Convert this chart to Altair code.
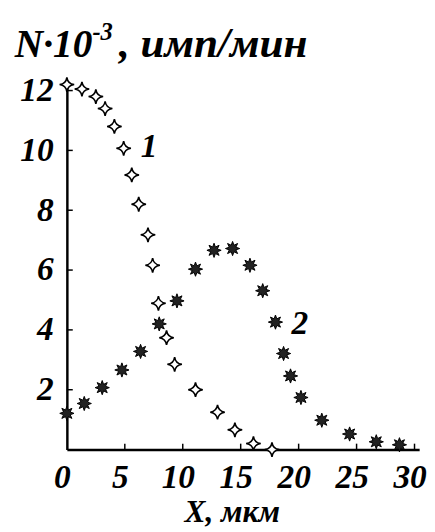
import altair as alt
import pandas as pd

# Series 1 (open 4-point stars)
x1 = [0.0, 1.3, 2.5, 3.3, 4.1, 4.9, 5.6, 6.2, 7.0, 7.4, 7.9, 8.6, 9.3, 11.1, 13.0, 14.5, 16.1, 17.7]
y1 = [12.2, 12.05, 11.8, 11.4, 10.8, 10.07, 9.18, 8.2, 7.18, 6.16, 4.89, 3.74, 2.85, 2.0, 1.25, 0.66, 0.2, 0.0]
# Series 2 (filled 8-point stars)
x2 = [0.0, 1.5, 3.05, 4.75, 6.36, 7.97, 9.5, 11.1, 12.7, 14.3, 15.8, 16.9, 18.0, 18.7, 19.3, 20.2, 22.0, 24.4, 26.7, 28.7]
y2 = [1.21, 1.54, 2.07, 2.66, 3.28, 4.2, 4.97, 6.03, 6.66, 6.72, 6.16, 5.31, 4.26, 3.21, 2.46, 1.74, 0.98, 0.52, 0.26, 0.16]

curve_labels = ["1", "2"]
label_x = [7.1, 20.1]
label_y = [10.1, 4.2]

x_ticks = [0, 5, 10, 15, 20, 25, 30]
y_ticks = [2, 4, 6, 8, 10, 12]

title_main = "N·10"
title_sup = "-3"
title_rest = ", имп/мин"
x_title = "X,  мкм"

FONT = "Liberation Serif"
W, H = 359, 375

df1 = pd.DataFrame({"x": x1, "y": y1})
df2 = pd.DataFrame({"x": x2, "y": y2})
dfl = pd.DataFrame({"x": label_x, "y": label_y, "t": curve_labels})
dfyt = pd.DataFrame({"y": y_ticks})
dfxt = pd.DataFrame({"x": x_ticks[1:]})

xs = alt.Scale(domain=[0, 30.4], nice=False, zero=False)
ys = alt.Scale(domain=[0, 12.3], nice=False, zero=False)

xaxis = alt.Axis(values=x_ticks, title=x_title, tickSize=0, labelPadding=12,
                 labelFontSize=34, titleFontSize=32, labelFont=FONT, titleFont=FONT,
                 labelFontStyle="italic", titleFontStyle="italic",
                 labelFontWeight="bold", titleFontWeight="bold",
                 labelColor="black", titleColor="black", domainColor="black",
                 domainWidth=2.5, grid=False, titlePadding=2, labelOffset=-5,
                 labelFlush=False, labelOverlap=False, titleX=168)
yaxis = alt.Axis(values=y_ticks, title=None, tickSize=0, labelPadding=14,
                 labelFontSize=34, labelFont=FONT, labelFontStyle="italic",
                 labelFontWeight="bold", labelColor="black", domainColor="black",
                 domainWidth=2.5, grid=False, labelFlush=False, labelOverlap=False)

star4 = "M0,-1 Q0.12,-0.12 1,0 Q0.12,0.12 0,1 Q-0.12,0.12 -1,0 Q-0.12,-0.12 0,-1 Z"
star8 = ("M0,-1 L0.191,-0.462 L0.707,-0.707 L0.462,-0.191 L1,0 L0.462,0.191 "
         "L0.707,0.707 L0.191,0.462 L0,1 L-0.191,0.462 L-0.707,0.707 L-0.462,0.191 "
         "L-1,0 L-0.462,-0.191 L-0.707,-0.707 L-0.191,-0.462 Z")

p1 = alt.Chart(df1).mark_point(shape=star4, size=220, filled=True, fill="white",
                               stroke="black", strokeWidth=1.6, opacity=1, clip=False).encode(
    x=alt.X("x:Q", scale=xs, axis=xaxis),
    y=alt.Y("y:Q", scale=ys, axis=yaxis),
)
p2 = alt.Chart(df2).mark_point(shape=star8, size=210, filled=True, fill="#222222",
                               stroke="black", strokeWidth=1, opacity=1, clip=False).encode(
    x=alt.X("x:Q", scale=xs),
    y=alt.Y("y:Q", scale=ys),
)
lab = alt.Chart(dfl).mark_text(font=FONT, fontSize=34, fontStyle="italic", fontWeight="bold",
                               color="black", align="center", baseline="middle").encode(
    x=alt.X("x:Q", scale=xs), y=alt.Y("y:Q", scale=ys), text="t:N")

yt = alt.Chart(dfyt).mark_rule(color="black", strokeWidth=1.5).encode(
    y=alt.Y("y:Q", scale=ys), x=alt.value(0), x2=alt.value(6))
xt = alt.Chart(dfxt).mark_rule(color="black", strokeWidth=1.5).encode(
    x=alt.X("x:Q", scale=xs), y=alt.value(H), y2=alt.value(H - 6))

title_style = dict(font=FONT, fontStyle="italic", fontWeight="bold", color="black",
                   align="left", baseline="alphabetic", clip=False)
t_main = alt.Chart(pd.DataFrame({"t": [title_main]})).mark_text(fontSize=40, **title_style).encode(
    text="t:N", x=alt.value(-53), y=alt.value(-25))
t_sup = alt.Chart(pd.DataFrame({"t": [title_sup]})).mark_text(fontSize=25, **title_style).encode(
    text="t:N", x=alt.value(26), y=alt.value(-42))
t_rest = alt.Chart(pd.DataFrame({"t": [title_rest]})).mark_text(fontSize=44, **title_style).encode(
    text="t:N", x=alt.value(53), y=alt.value(-25))

chart = alt.layer(yt, xt, p1, p2, lab, t_main, t_sup, t_rest).properties(
    width=W, height=H,
    autosize=alt.AutoSizeParams(type="none"),
    padding={"left": 60, "top": 70, "right": 8, "bottom": 78},
).configure_view(stroke=None)

chart.save("out.html", embed_options={"renderer": "svg", "actions": False})
